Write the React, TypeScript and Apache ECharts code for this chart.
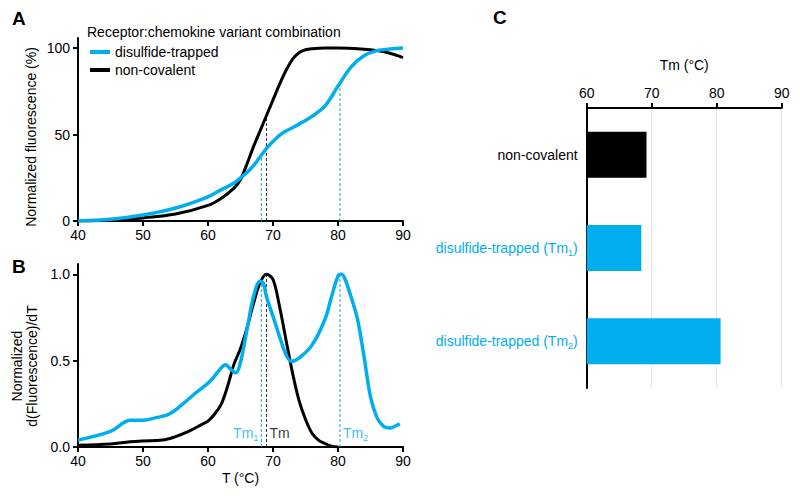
import React, { useEffect, useRef } from "react";
import * as echarts from "echarts";

const BLUE = "#00AEEF";
const FONT = "Liberation Sans, Arial, sans-serif";

// Panel A: normalized fluorescence (%)
const aBlackT = [40, 45, 50, 55, 60, 62, 64, 65, 66, 67, 68, 69, 70, 71, 72, 73, 74, 75, 76, 78, 80, 84, 86, 88, 90];
const aBlackV = [0, 0.5, 1.8, 4, 9, 13, 19, 24, 33, 43, 52, 61, 70, 79, 87, 93.5, 97.3, 99, 99.6, 100, 100, 99.3, 98.5, 97, 94.5];
const aBlueT = [40, 45, 50, 55, 60, 62, 64, 65, 66, 67, 68, 69, 70, 71, 72, 74, 76, 78, 80, 82, 84, 86, 88, 90];
const aBlueV = [0, 1, 3.5, 7.5, 14, 18, 22, 25, 28, 32, 37, 42, 46, 49.5, 52, 56, 60.5, 66.5, 78, 89, 95.5, 98.5, 99.4, 100];

// Panel B: normalized d(F)/dT
const bBlueT = [40, 45, 47, 48, 50, 52, 54, 56, 58, 60, 61, 62, 62.7, 63.5, 64.3, 65, 66, 67, 68, 68.5, 69, 70, 71, 72, 72.8, 74, 76, 78, 79, 80, 80.5, 81, 82, 83, 84, 85, 86, 87, 88, 89, 89.5];
const bBlueV = [0.04, 0.09, 0.14, 0.155, 0.155, 0.17, 0.19, 0.245, 0.31, 0.37, 0.41, 0.457, 0.476, 0.45, 0.43, 0.49, 0.68, 0.87, 0.96, 0.95, 0.87, 0.757, 0.64, 0.535, 0.496, 0.515, 0.59, 0.74, 0.87, 0.99, 1.0, 0.98, 0.87, 0.74, 0.525, 0.29, 0.17, 0.12, 0.11, 0.125, 0.135];
const bBlackT = [40, 45, 48, 50, 53, 55, 57, 59, 60, 61, 62, 63, 64, 65, 66, 67, 68, 69, 70, 71, 72, 73, 74, 75, 76, 77, 78, 79, 80];
const bBlackV = [0.01, 0.017, 0.03, 0.035, 0.04, 0.06, 0.09, 0.13, 0.15, 0.19, 0.245, 0.35, 0.48, 0.57, 0.69, 0.83, 0.95, 1.0, 0.97, 0.815, 0.62, 0.43, 0.27, 0.16, 0.08, 0.04, 0.02, 0.005, 0];

// Melting temperatures
const tmNames = ["Tm1", "Tm", "Tm2"];
const tmValues = [68.2, 69, 80.3];
const tmHeightsA = [37.5, 61, 79];
const tmHeightsB = [0.96, 1.0, 1.0];

// Panel C
const cCategories = ["non-covalent", "disulfide-trapped (Tm1)", "disulfide-trapped (Tm2)"];
const cValues = [69.2, 68.4, 80.6];

const aYTicks = [0, 50, 100];
const bYTicks = [0, 0.5, 1.0];

const zip = (t: number[], v: number[]) => t.map((x, i) => [x, v[i]]);

export default function App() {
  const ref = useRef<HTMLDivElement>(null);
  useEffect(() => {
    document.body.style.margin = "0";
    const chart = echarts.init(ref.current!, null, { renderer: "svg" });
    const axisLine = { show: true, onZero: false, lineStyle: { color: "#000", width: 2 } };
    const axisTick = { show: true, length: 5, lineStyle: { color: "#000", width: 2 } };
    const label = { color: "#000", fontSize: 14, fontFamily: FONT };
    const dashed = (name: string, xi: number, h: number, grid: number, color: string) => ({
      type: "line",
      name,
      xAxisIndex: grid,
      yAxisIndex: grid,
      data: [[tmValues[xi], 0], [tmValues[xi], h]],
      symbol: "none",
      silent: true,
      lineStyle: { color, width: 1, type: [3, 2] },
      z: 1,
    });
    const blueDark = "#1aa0d8";
    const option: any = {
      animation: false,
      textStyle: { fontFamily: FONT },
      grid: [
        { left: 78, right: 397, top: 38, bottom: 277 },
        { left: 78, right: 397, top: 264, bottom: 51 },
        { left: 586.7, right: 18.3, top: 108, bottom: 110 },
      ],
      legend: {
        left: 90,
        top: 45,
        orient: "vertical",
        padding: 0,
        itemGap: 4,
        itemWidth: 20,
        itemHeight: 4,
        icon: "rect",
        textStyle: { fontSize: 14, color: "#000", fontFamily: FONT },
        data: ["disulfide-trapped", "non-covalent"],
      },
      xAxis: [
        {
          type: "value", gridIndex: 0, min: 40, max: 90, interval: 10,
          axisLine, axisTick, axisLabel: { ...label, margin: 7 }, splitLine: { show: false },
        },
        {
          type: "value", gridIndex: 1, min: 40, max: 90, interval: 10,
          axisLine, axisTick, axisLabel: { ...label, margin: 7 }, splitLine: { show: false },
          name: "T (°C)", nameLocation: "middle", nameGap: 24,
          nameTextStyle: { ...label },
        },
        {
          type: "value", gridIndex: 2, min: 60, max: 90, interval: 10, position: "top",
          axisLine, axisTick, axisLabel: { ...label, margin: 8 },
          splitLine: { show: true, lineStyle: { color: "#e4e8ea", width: 1 } },
          name: "Tm (°C)", nameLocation: "middle", nameGap: 36,
          nameTextStyle: { ...label },
        },
      ],
      yAxis: [
        {
          type: "value", gridIndex: 0, min: 0, max: 105.8,
          axisLine, axisTick: { ...axisTick, customValues: aYTicks },
          axisLabel: { ...label, margin: 8, customValues: aYTicks }, splitLine: { show: false },
        },
        {
          type: "value", gridIndex: 1, min: 0, max: 1.06,
          axisLine, axisTick: { ...axisTick, customValues: bYTicks },
          axisLabel: { ...label, margin: 8, customValues: bYTicks, formatter: (v: number) => v.toFixed(1) },
          splitLine: { show: false },
        },
        {
          type: "category", gridIndex: 2, inverse: true,
          data: cCategories,
          axisLine: { show: true, lineStyle: { color: "#000", width: 2 } },
          axisTick: { show: false },
          axisLabel: {
            margin: 9,
            fontSize: 14,
            fontFamily: FONT,
            formatter: (v: string) => {
              if (v.endsWith("(Tm1)")) return "{b|disulfide-trapped (Tm}{s|1}{b|)}";
              if (v.endsWith("(Tm2)")) return "{b|disulfide-trapped (Tm}{s|2}{b|)}";
              return "{k|" + v + "}";
            },
            rich: {
              k: { color: "#000", fontSize: 14, fontFamily: FONT },
              b: { color: BLUE, fontSize: 14, fontFamily: FONT },
              s: { color: BLUE, fontSize: 9, fontFamily: FONT, padding: [9, 0, 0, 0] },
            },
          },
        },
      ],
      series: [
        dashed("dA1", 0, tmHeightsA[0], 0, blueDark),
        dashed("dA2", 1, tmHeightsA[1], 0, "#333"),
        dashed("dA3", 2, tmHeightsA[2], 0, blueDark),
        dashed("dB1", 0, tmHeightsB[0], 1, blueDark),
        dashed("dB2", 1, tmHeightsB[1], 1, "#333"),
        dashed("dB3", 2, tmHeightsB[2], 1, blueDark),
        {
          type: "line", name: "non-covalent", xAxisIndex: 0, yAxisIndex: 0,
          data: zip(aBlackT, aBlackV), symbol: "none", smooth: 0.35,
          lineStyle: { color: "#000", width: 3 }, itemStyle: { color: "#000" }, z: 3,
        },
        {
          type: "line", name: "disulfide-trapped", xAxisIndex: 0, yAxisIndex: 0,
          data: zip(aBlueT, aBlueV), symbol: "none", smooth: 0.35,
          lineStyle: { color: BLUE, width: 3.5 }, itemStyle: { color: BLUE }, z: 4,
        },
        {
          type: "line", name: "non-covalent", xAxisIndex: 1, yAxisIndex: 1,
          data: zip(bBlackT, bBlackV), symbol: "none", smooth: 0.35,
          lineStyle: { color: "#000", width: 3 }, itemStyle: { color: "#000" }, z: 3,
        },
        {
          type: "line", name: "disulfide-trapped", xAxisIndex: 1, yAxisIndex: 1,
          data: zip(bBlueT, bBlueV), symbol: "none", smooth: 0.35,
          lineStyle: { color: BLUE, width: 3.5 }, itemStyle: { color: BLUE }, z: 4,
        },
        {
          type: "scatter", name: "tmLabels", xAxisIndex: 1, yAxisIndex: 1,
          symbolSize: 0, silent: true,
          data: tmNames.map((n, i) => ({
            value: [tmValues[i], 0.08],
            label: {
              show: true,
              position: i === 0 ? "left" : "right",
              distance: 3,
              formatter: n === "Tm1" ? "{b|Tm}{s|1}" : n === "Tm2" ? "{b|Tm}{s|2}" : "{k|Tm}",
              rich: {
                k: { color: "#000", fontSize: 14, fontFamily: FONT },
                b: { color: BLUE, fontSize: 14, fontFamily: FONT },
                s: { color: BLUE, fontSize: 9, fontFamily: FONT, padding: [9, 0, 0, 0] },
              },
            },
          })),
        },
        {
          type: "bar", name: "Tm", xAxisIndex: 2, yAxisIndex: 2, barWidth: 46,
          data: cValues.map((v, i) => ({ value: v, itemStyle: { color: i === 0 ? "#000" : BLUE } })),
        },
      ],
      graphic: [
        { type: "text", left: 12, top: 9, style: { text: "A", font: "bold 19px " + FONT, fill: "#000" } },
        { type: "text", left: 12, top: 257, style: { text: "B", font: "bold 19px " + FONT, fill: "#000" } },
        { type: "text", left: 493, top: 8, style: { text: "C", font: "bold 19px " + FONT, fill: "#000" } },
        { type: "text", left: 87, top: 25, style: { text: "Receptor:chemokine variant combination", font: "14px " + FONT, fill: "#000" } },
        {
          type: "text", x: 31, y: 137, rotation: Math.PI / 2,
          style: { text: "Normalized fluorescence (%)", font: "14px " + FONT, fill: "#000", align: "center", verticalAlign: "middle" },
        },
        {
          type: "text", x: 24, y: 366, rotation: Math.PI / 2,
          style: { text: "Normalized\nd(Fluorescence)/dT", font: "14px " + FONT, fill: "#000", align: "center", verticalAlign: "middle", lineHeight: 15 },
        },
      ],
    };
    chart.setOption(option);
    return () => chart.dispose();
  }, []);
  return <div ref={ref} style={{ width: 800, height: 498 }} />;
}
